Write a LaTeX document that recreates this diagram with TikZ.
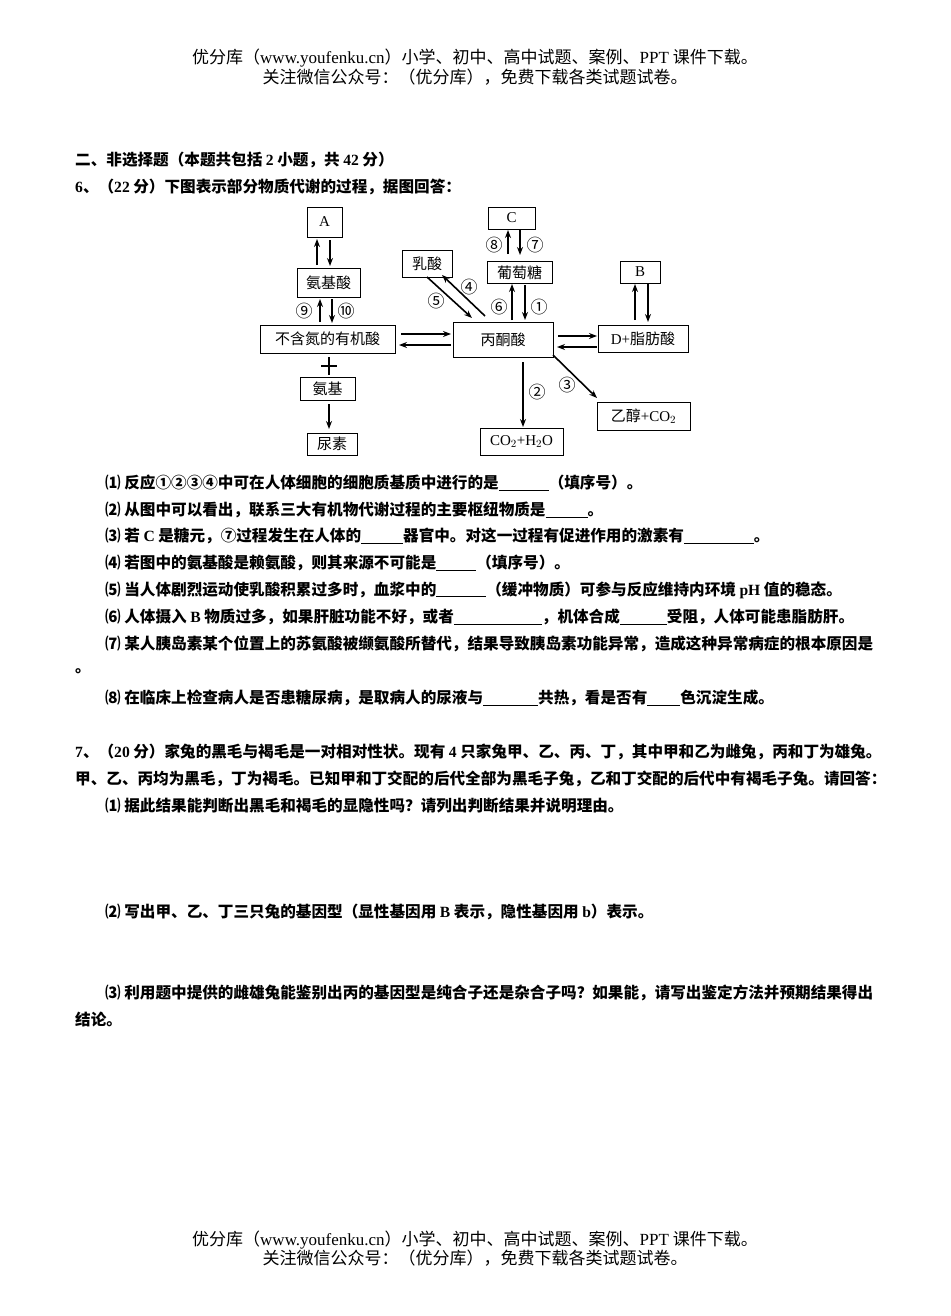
\documentclass[tikz,border=0pt]{standalone}
\usepackage{fontspec}
\setmainfont{Noto Sans CJK SC}
\newfontfamily\lat{Liberation Serif}
\usetikzlibrary{arrows.meta}
\newcommand{\blk}[1]{\underline{\hspace{#1}}}
\begin{document}
\begin{tikzpicture}[x=1pt,y=-1pt,
  bx/.style={draw,line width=0.8pt,inner sep=0pt,minimum height=22pt,font=\fontsize{15}{15}\selectfont},
  ar/.style={-{Stealth[length=8pt,width=6pt]},line width=1.6pt},
  lb/.style={font=\fontsize{17}{17}\selectfont,inner sep=0pt},
  tx/.style={anchor=west,inner sep=0pt,font=\fontsize{15.6}{15.6}\selectfont\bfseries},
  hd/.style={inner sep=0pt,font=\fontsize{17}{17}\selectfont}]
\useasboundingbox (0,0) rectangle (950,1316);
% header/footer
\node[hd] (h1) at (475,58) {优分库（{\lat www.youfenku.cn}）小学、初中、高中试题、案例、{\lat PPT} 课件下载。};
\node[hd] (h2) at (475,77) {关注微信公众号：（优分库），免费下载各类试题试卷。};
\node[hd] (f1) at (475,1240) {优分库（{\lat www.youfenku.cn}）小学、初中、高中试题、案例、{\lat PPT} 课件下载。};
\node[hd] (f2) at (475,1258) {关注微信公众号：（优分库），免费下载各类试题试卷。};
% boxes
\node[bx,minimum width=35pt,minimum height=30pt] (A) at (324.5,222) {\lat A};
\node[bx,minimum width=63pt,minimum height=29pt] (aa) at (328.5,282.5) {氨基酸};
\node[bx,minimum width=135pt,minimum height=28pt] (oa) at (327.5,339) {不含氮的有机酸};
\node[bx,minimum width=55pt,minimum height=23pt] (nh) at (327.5,388.5) {氨基};
\node[bx,minimum width=50pt] (ur) at (332,444) {尿素};
\node[bx,minimum width=50pt,minimum height=27pt] (la) at (427,263.5) {乳酸};
\node[bx,minimum width=47pt] (C) at (511.5,218) {\lat C};
\node[bx,minimum width=65pt] (gl) at (519.5,272.5) {葡萄糖};
\node[bx,minimum width=40pt] (B) at (640,272) {\lat B};
\node[bx,minimum width=100pt,minimum height=35pt] (py) at (503,339.5) {丙酮酸};
\node[bx,minimum width=90pt,minimum height=27pt] (D) at (643,338.5) {\lat D+\normalfont 脂肪酸};
\node[bx,minimum width=93pt,minimum height=28pt] (et) at (643.5,416) {乙醇{\lat +CO$_2$}};
\node[bx,minimum width=83pt,minimum height=27pt] (co) at (521.5,441.5) {\lat CO$_2$+H$_2$O};
% arrows
\draw[ar] (317,265) -- (317,239);
\draw[ar] (330,240) -- (330,266);
\draw[ar] (320,322) -- (320,299);
\draw[ar] (332,299) -- (332,323);
\node[lb] (n9) at (304,311) {⑨};
\node[lb] (n10) at (346,311) {⑩};
\draw[ar] (401,334) -- (451,334);
\draw[ar] (451,345) -- (399,345);
\draw[line width=1.6pt] (329,357) -- (329,375) (321,366) -- (337,366);
\draw[ar] (329,404) -- (329,429);
\draw[ar] (427,277) -- (472,318);
\draw[ar] (485,316) -- (442,275);
\node[lb] (n5) at (436,301) {⑤};
\node[lb] (n4) at (469,287) {④};
\draw[ar] (512,320) -- (512,284);
\draw[ar] (525,285) -- (525,320);
\node[lb] (n6) at (499,307) {⑥};
\node[lb] (n1) at (539,307) {①};
\draw[ar] (508,254) -- (508,230);
\draw[ar] (520,230) -- (520,255);
\node[lb] (n8) at (494,245) {⑧};
\node[lb] (n7) at (535,245) {⑦};
\draw[ar] (635,320) -- (635,284);
\draw[ar] (648,284) -- (648,322);
\draw[ar] (558,336) -- (597,336);
\draw[ar] (597,347) -- (557,347);
\draw[ar] (523,362) -- (523,427);
\node[lb] (n2) at (537,392) {②};
\draw[ar] (553,355) -- (597,398);
\node[lb] (n3) at (567,385) {③};
% text
\node[tx] (t1) at (75,160) {二、非选择题（本题共包括 {\lat 2} 小题，共 {\lat 42} 分）};
\node[tx] (t2) at (75,187) {{\lat 6}、（{\lat 22} 分）下图表示部分物质代谢的过程，据图回答：};
\node[tx] (q1) at (105,483) {⑴ 反应①②③④中可在人体细胞的细胞质基质中进行的是\blk{50pt}（填序号）。};
\node[tx] (q2) at (105,510) {⑵ 从图中可以看出，联系三大有机物代谢过程的主要枢纽物质是\blk{42pt}。};
\node[tx] (q3) at (105,536) {⑶ 若 {\lat C} 是糖元，⑦过程发生在人体的\blk{42pt}器官中。对这一过程有促进作用的激素有\blk{70pt}。};
\node[tx] (q4) at (105,563) {⑷ 若图中的氨基酸是赖氨酸，则其来源不可能是\blk{40pt}（填序号）。};
\node[tx] (q5) at (105,590) {⑸ 当人体剧烈运动使乳酸积累过多时，血浆中的\blk{50pt}（缓冲物质）可参与反应维持内环境 {\lat pH} 值的稳态。};
\node[tx] (q6) at (105,617) {⑹ 人体摄入 {\lat B} 物质过多，如果肝脏功能不好，或者\blk{88pt}，机体合成\blk{47pt}受阻，人体可能患脂肪肝。};
\node[tx] (q7) at (105,644) {⑺ 某人胰岛素某个位置上的苏氨酸被缬氨酸所替代，结果导致胰岛素功能异常，造成这种异常病症的根本原因是};
\node[tx] (q7b) at (75,671) {。};
\node[tx] (q8) at (105,698) {⑻ 在临床上检查病人是否患糖尿病，是取病人的尿液与\blk{55pt}共热，看是否有\blk{33pt}色沉淀生成。};
\node[tx] (r1) at (75,752) {{\lat 7}、（{\lat 20} 分）家兔的黑毛与褐毛是一对相对性状。现有 {\lat 4} 只家兔甲、乙、丙、丁，其中甲和乙为雌兔，丙和丁为雄兔。};
\node[tx] (r2) at (75,779) {甲、乙、丙均为黑毛，丁为褐毛。已知甲和丁交配的后代全部为黑毛子兔，乙和丁交配的后代中有褐毛子兔。请回答：};
\node[tx] (r3) at (105,806) {⑴ 据此结果能判断出黑毛和褐毛的显隐性吗？请列出判断结果并说明理由。};
\node[tx] (r4) at (105,912) {⑵ 写出甲、乙、丁三只兔的基因型（显性基因用 {\lat B} 表示，隐性基因用 {\lat b}）表示。};
\node[tx] (r5) at (105,993) {⑶ 利用题中提供的雌雄兔能鉴别出丙的基因型是纯合子还是杂合子吗？如果能，请写出鉴定方法并预期结果得出};
\node[tx] (r6) at (75,1020) {结论。};
\end{tikzpicture}
\end{document}
